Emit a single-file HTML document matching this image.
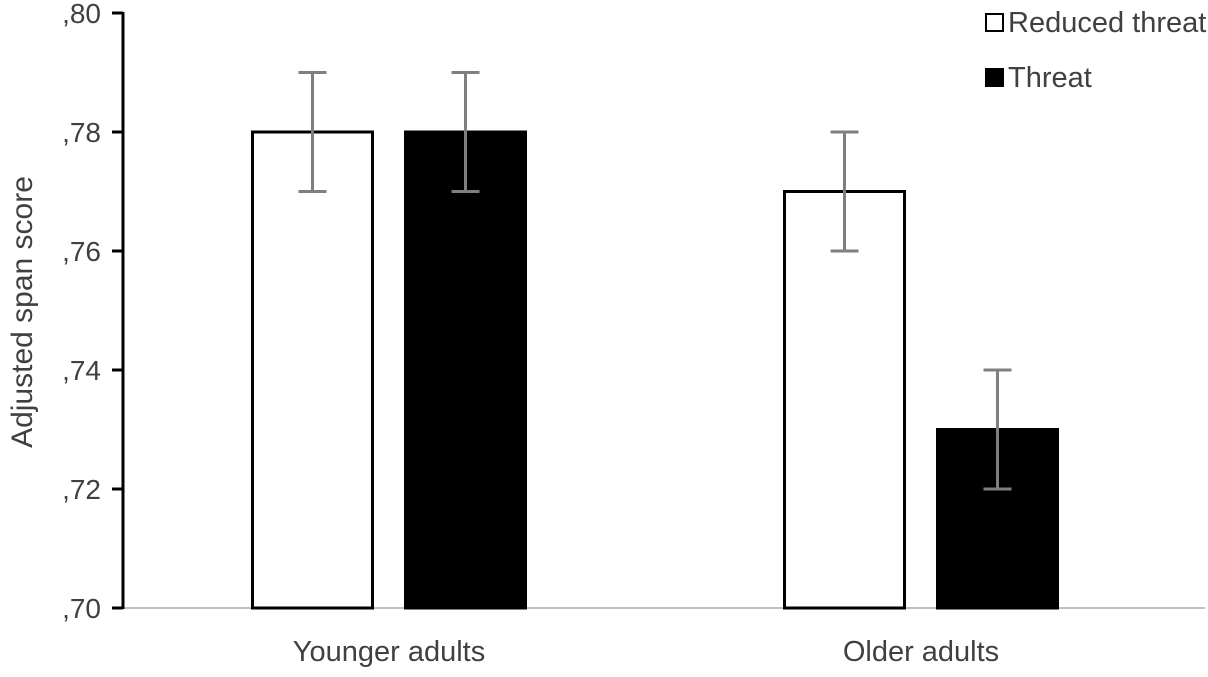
<!DOCTYPE html>
<html><head><meta charset="utf-8"><style>
html,body{margin:0;padding:0;background:#fff;}
svg text{font-family:"Liberation Sans",sans-serif;fill:#404040;}
</style></head><body>
<svg id="chart" width="1208" height="672" xmlns="http://www.w3.org/2000/svg"></svg>
<script>
const categories = ["Younger adults", "Older adults"];
const seriesNames = ["Reduced threat", "Threat"];
const reducedValues = [0.78, 0.77];
const threatValues = [0.78, 0.73];
const reducedErrors = [0.01, 0.01];
const threatErrors = [0.01, 0.01];
const yTicks = [0.70, 0.72, 0.74, 0.76, 0.78, 0.80];
const yTickLabels = [",70", ",72", ",74", ",76", ",78", ",80"];

const NS = "http://www.w3.org/2000/svg";
const svg = document.getElementById("chart");
const plotL = 123, plotR = 1187, plotT = 13, plotB = 608;
const yMin = 0.70, yMax = 0.80;
function y(v){ return plotB - (v - yMin) / (yMax - yMin) * (plotB - plotT); }
function xCenter(i){ const w = (plotR - plotL) / categories.length; return plotL + w * (i + 0.5); }
const barW = 123, gap = 30;
function mk(tag, attrs, parent){ const e = document.createElementNS(NS, tag); for (const k in attrs) e.setAttribute(k, attrs[k]); (parent || svg).appendChild(e); return e; }

const xa = mk("line", {x1: plotL, x2: 1205, y1: plotB, y2: plotB, stroke: "#bfbfbf", "stroke-width": 2});



const colors = ["#ffffff", "#000000"];
const vals = [reducedValues, threatValues];
const errs = [reducedErrors, threatErrors];
categories.forEach((c, i) => {
  const cx = xCenter(i);
  for (let s = 0; s < 2; s++) {
    const x0 = s === 0 ? cx - gap / 2 - barW : cx + gap / 2;
    const v = vals[s][i];
    const r = mk("rect", {x: x0 + 1.5, y: y(v), width: barW - 3, height: plotB - y(v), fill: colors[s], stroke: "#000", "stroke-width": 3});
    
    
    const bx = x0 + barW / 2, e = errs[s][i];
    const g = mk("g", {stroke: "#7f7f7f", "stroke-width": 3});
    
    
    mk("line", {x1: bx, x2: bx, y1: y(v + e), y2: y(v - e)}, g);
    mk("line", {x1: bx - 14, x2: bx + 14, y1: y(v + e), y2: y(v + e)}, g);
    mk("line", {x1: bx - 14, x2: bx + 14, y1: y(v - e), y2: y(v - e)}, g);
  }
  const t = mk("text", {x: cx, y: 661, "text-anchor": "middle", "font-size": 29});
  t.textContent = c;
  
  
});

const ya = mk("line", {x1: plotL, x2: plotL, y1: plotT - 1, y2: plotB + 1, stroke: "#000", "stroke-width": 3});


yTicks.forEach((v, i) => {
  const tk = mk("line", {x1: 112, x2: plotL, y1: y(v), y2: y(v), stroke: "#000", "stroke-width": 3});
  
  
  const t = mk("text", {x: 101, y: y(v) + 10, "text-anchor": "end", "font-size": 28});
  t.textContent = yTickLabels[i];
  
  
});
const yt = mk("text", {x: 0, y: 0, transform: "translate(32,312) rotate(-90)", "text-anchor": "middle", "font-size": 30});
yt.textContent = "Adjusted span score";



seriesNames.forEach((n, s) => {
  const ly = 22 + s * 55;
  const g = mk("g", {});
  
  
  mk("rect", {x: 986, y: ly - 8, width: 17, height: 17, fill: colors[s], stroke: "#000", "stroke-width": 2}, g);
  const t = mk("text", {x: 1008, y: ly + 10, "font-size": 29}, g);
  t.textContent = n;
});
</script>
</body></html>
